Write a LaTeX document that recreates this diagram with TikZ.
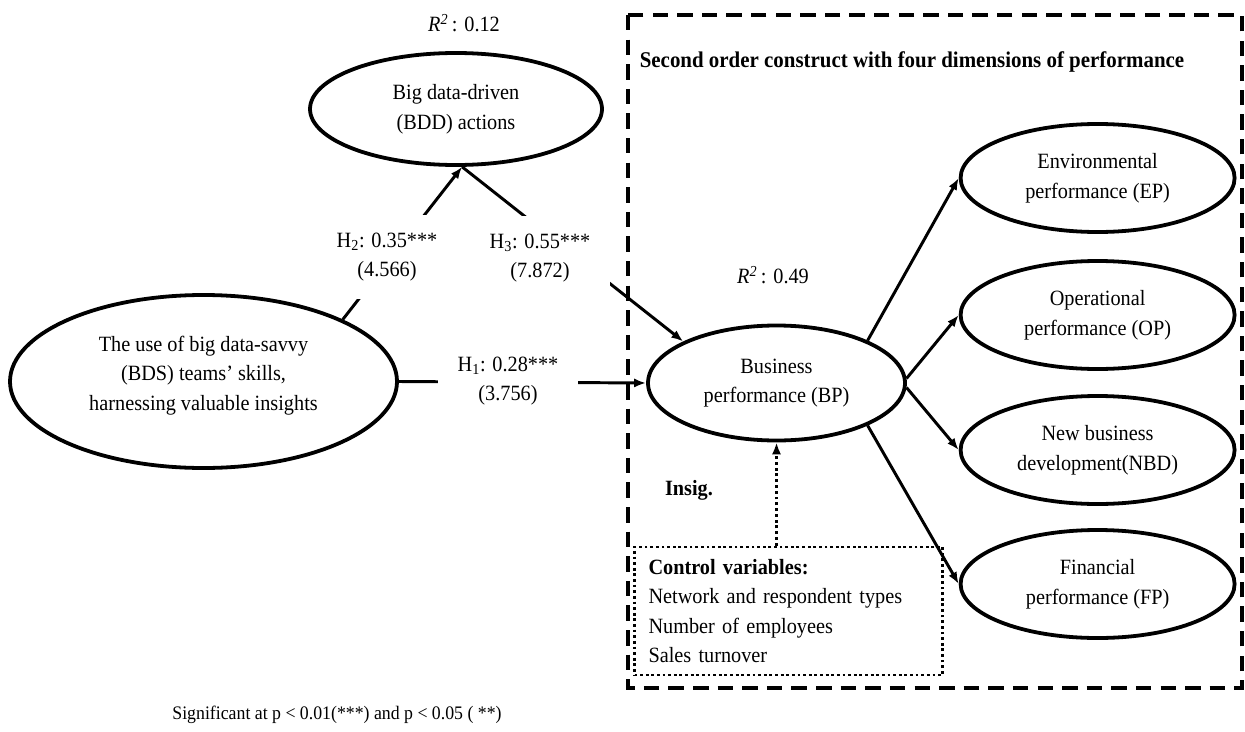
\documentclass[tikz,border=0pt]{standalone}
\usepackage{fontspec}
\setmainfont{Liberation Serif}[FakeStretch=0.93]
\usetikzlibrary{shapes.geometric,arrows.meta}

\begin{document}
\begin{tikzpicture}[
    every node/.style={font=\fontsize{15.5}{21}\selectfont},
    latent/.style={draw, ellipse, line width=2.7pt, align=center, inner sep=0pt},
    hyp/.style={-{Latex[length=8.5pt,width=6.5pt]}, line width=2.1pt},
    coef/.style={fill=white, align=center, inner xsep=0.5cm, inner ysep=0.45cm}]
    \useasboundingbox (0,0) rectangle (31.125,-18.275);

    % second order construct frame
    \draw[line width=3pt, dash pattern=on 11pt off 6.5pt] (15.7,-0.375) rectangle (31.05,-17.2);
    \node[font=\fontsize{16}{21}\selectfont\bfseries] (title) at (22.8,-1.55) {Second order construct with four dimensions of performance};

    % constructs
    \node[latent, minimum width=9.675cm, minimum height=4.325cm] (bds) at (5.0875,-9.5375) {The use of big data-savvy\\(BDS) teams' skills,\\harnessing valuable insights\\[-15pt]\strut};
    \node[latent, minimum width=7.3cm, minimum height=2.8cm] (bdd) at (11.4,-2.725) {Big data-driven\\(BDD) actions};
    \node (r2bdd) at (11.6,-0.575) {\textit{R}\textsuperscript{\textit{2}}\,: 0.12};
    \node[latent, minimum width=6.425cm, minimum height=2.875cm] (bp) at (19.4125,-9.575) {Business\\performance (BP)};
    \node (r2bp) at (19.325,-6.875) {\textit{R}\textsuperscript{\textit{2}}\,: 0.49};

    \node[latent, minimum width=6.85cm, minimum height=2.7cm] (ep) at (27.44,-4.45) {Environmental\\performance (EP)};
    \node[latent, minimum width=6.85cm, minimum height=2.7cm] (op) at (27.44,-7.875) {Operational\\performance (OP)};
    \node[latent, minimum width=6.85cm, minimum height=2.7cm] (nbd) at (27.44,-11.25) {New business\\development(NBD)};
    \node[latent, minimum width=6.85cm, minimum height=2.7cm] (fp) at (27.44,-14.6) {Financial\\performance (FP)};

    % control variables
    \node[draw, dotted, line width=2pt, align=left, text width=7cm, inner xsep=0.35cm, minimum height=3.2cm] (ctrl) at (19.7125,-15.275) {\textbf{Control variables:}\\Network and respondent types\\Number of employees\\Sales turnover};
    \node[font=\fontsize{15.5}{21}\selectfont\bfseries] (insig) at (17.225,-12.25) {Insig.};

    % paths
    \draw[hyp] (bds.24) -- (bdd.-84);
    \draw[hyp] (bdd.-84) -- (bp.156);
    \draw[hyp] (bds.east) -- (bp.west);
    \draw[hyp] (bp.25) -- (ep.west);
    \draw[hyp] (bp.2) -- (op.west);
    \draw[hyp] (bp.-2) -- (nbd.west);
    \draw[hyp] (bp.-25) -- (fp.west);
    \draw[hyp, dotted, line width=2pt] (bp.south |- ctrl.north) -- (bp.south);

    % path coefficients
    \node[coef] (h2) at (9.675,-6.425) {H\textsubscript{2}: 0.35***\\(4.566)};
    \node[coef] (h3) at (13.5,-6.45) {H\textsubscript{3}: 0.55***\\(7.872)};
    \node[coef] (h1) at (12.7,-9.525) {H\textsubscript{1}: 0.28***\\(3.756)};

    \node[font=\fontsize{13.6}{17}\selectfont] (note) at (8.425,-17.875) {Significant at p < 0.01(***) and p < 0.05 ( **)};
\end{tikzpicture}
\end{document}
